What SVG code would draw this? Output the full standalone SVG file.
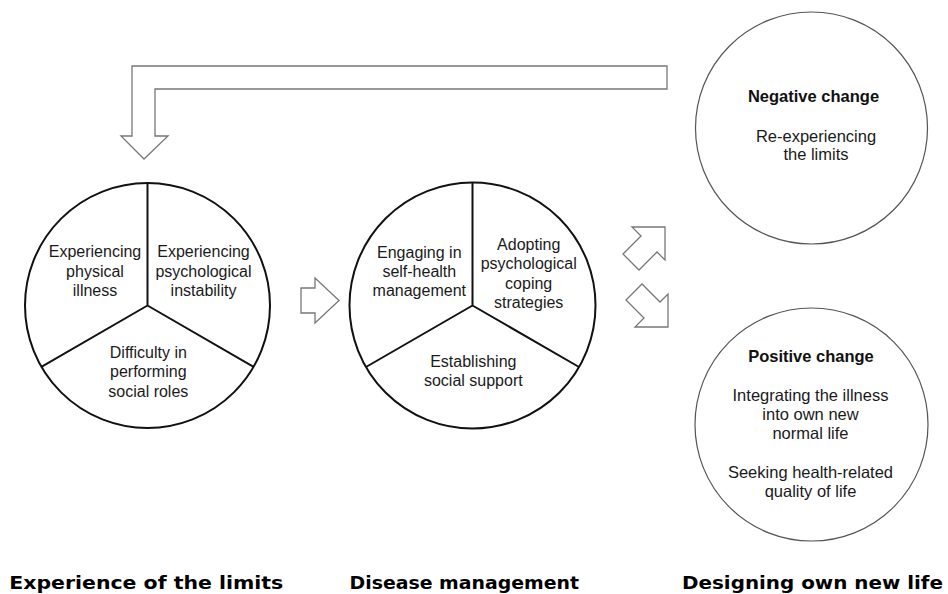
<svg xmlns="http://www.w3.org/2000/svg" width="948" height="594" viewBox="0 0 948 594">
<style>
.pie{fill:#fff;stroke:#111;stroke-width:2}
.div{stroke:#111;stroke-width:2;fill:none}
.ring{fill:#fff;stroke:#555;stroke-width:1.2}
.arr{fill:#fff;stroke:#777;stroke-width:1.3;stroke-linejoin:miter}
.t{font-family:"Liberation Sans",Arial,sans-serif;font-size:16px;fill:#1a1a1a;text-anchor:middle}
.tc{font-family:"Liberation Sans",Arial,sans-serif;font-size:16.5px;fill:#1a1a1a;text-anchor:middle}
.tb{font-family:"Liberation Sans",Arial,sans-serif;font-size:16.5px;font-weight:bold;fill:#111;text-anchor:middle}
.lab{font-family:"DejaVu Sans",sans-serif;font-size:18.5px;font-weight:bold;fill:#000}
</style>
<rect width="948" height="594" fill="#fff"/>
<g id="connectors">
<path class="arr" d="M667,66 H132 V136 H121 L144,159 L168,136 H155 V89 H667 Z"/>
<path class="arr" d="M301,288 H315 V278 L339,300.5 L315,323 V313 H301 Z"/>
<path class="arr" d="M632,227 L665,227 L665,260 L657,252 L639,270 L623,254 L641,236 Z"/>
<path class="arr" d="M635,327 L668,327 L668,294 L660,302 L642,284 L626,300 L644,318 Z"/>
</g>
<g id="experience-pie">
<circle class="pie" cx="147.5" cy="305.5" r="122.5"/>
<path class="div" d="M147.5,305.5 V183 M147.5,305.5 L41.4,366.8 M147.5,305.5 L253.6,366.8"/>
<text class="t" x="95" y="257.3">Experiencing</text>
<text class="t" x="95" y="276.7">physical</text>
<text class="t" x="95" y="295.5">illness</text>
<text class="t" x="203.5" y="257.3">Experiencing</text>
<text class="t" x="203.5" y="276.7">psychological</text>
<text class="t" x="203.5" y="295.5">instability</text>
<text class="t" x="148.3" y="358.3">Difficulty in</text>
<text class="t" x="148.3" y="377.3">performing</text>
<text class="t" x="148.3" y="396.7">social roles</text>
</g>
<g id="management-pie">
<circle class="pie" cx="472.5" cy="305.5" r="123"/>
<path class="div" d="M472.5,305.5 V182.5 M472.5,305.5 L366,367 M472.5,305.5 L579,367"/>
<text class="t" x="419.3" y="257.7">Engaging in</text>
<text class="t" x="419.3" y="276.7">self-health</text>
<text class="t" x="419.3" y="296">management</text>
<text class="t" x="528.7" y="250">Adopting</text>
<text class="t" x="528.7" y="269.3">psychological</text>
<text class="t" x="528.7" y="289">coping</text>
<text class="t" x="528.7" y="308.3">strategies</text>
<text class="t" x="473.3" y="366.7">Establishing</text>
<text class="t" x="473.3" y="385.5">social support</text>
</g>
<g id="negative-change">
<circle class="ring" cx="811.5" cy="128" r="116"/>
<text class="tb" x="813.5" y="101.7">Negative change</text>
<text class="tc" x="816" y="142.3">Re-experiencing</text>
<text class="tc" x="816" y="159.5">the limits</text>
</g>
<g id="positive-change">
<circle class="ring" cx="811.5" cy="424.5" r="116.5"/>
<text class="tb" x="811" y="361.7">Positive change</text>
<text class="tc" x="810.5" y="400.7">Integrating the illness</text>
<text class="tc" x="810.5" y="420">into own new</text>
<text class="tc" x="810.5" y="439.3">normal life</text>
<text class="tc" x="810.5" y="478.3">Seeking health-related</text>
<text class="tc" x="810.5" y="496.5">quality of life</text>
</g>
<g id="stage-labels">
<text class="lab" x="9.3" y="589.3" textLength="274" lengthAdjust="spacingAndGlyphs">Experience of the limits</text>
<text class="lab" x="349.5" y="589.3" textLength="229.5" lengthAdjust="spacingAndGlyphs">Disease management</text>
<text class="lab" x="682" y="589.3" textLength="261" lengthAdjust="spacingAndGlyphs">Designing own new life</text>
</g>
</svg>
